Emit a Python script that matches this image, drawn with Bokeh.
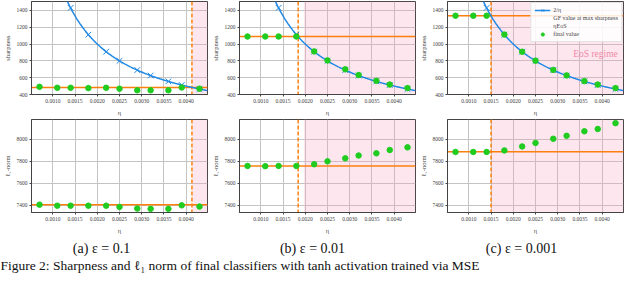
import numpy as np
from bokeh.plotting import figure
from bokeh.layouts import column, row
from bokeh.models import (Range1d, FixedTicker, NumeralTickFormatter, Span,
                          BoxAnnotation, Label, Legend, LegendItem)
from bokeh.embed import file_html
from bokeh.resources import INLINE

# ---------------- data ----------------
eta = [0.0007, 0.0011, 0.0014, 0.0018, 0.0022, 0.0025, 0.0029, 0.0032, 0.0036, 0.0039, 0.0043]

# final sharpness (green dots), top row
sharp_a = [491, 480, 480, 476, 480, 469, 450, 450, 450, 483, 469]
sharp_b = [1089, 1089, 1089, 1089, 912, 805, 699, 631, 563, 518, 476]
sharp_c = [1336, 1336, 1336, 1112, 908, 802, 692, 627, 559, 518, 476]

# 2/eta markers (x) at each eta
two_over_eta = [2857, 1818, 1429, 1111, 909, 800, 690, 625, 556, 513, 465]

# final l1-norm (green dots), bottom row
l1_a = [7406, 7397, 7397, 7397, 7397, 7386, 7371, 7368, 7368, 7400, 7389]
l1_b = [7758, 7756, 7758, 7758, 7773, 7800, 7827, 7853, 7873, 7903, 7927]
l1_c = [7885, 7885, 7885, 7899, 7935, 7967, 8005, 8032, 8073, 8094, 8147]

# GF value at max sharpness (orange solid lines)
gf_sharp = [484, 1089, 1336]
gf_l1 = [7405, 7758, 7886]

# eta_EoS (orange dashed) and start of the EoS (pink) region
eta_eos = [0.00413, 0.00184, 0.00150]
eos_start = [0.00414, 0.00197, 0.00151]

x_ticks = [0.0010, 0.0015, 0.0020, 0.0025, 0.0030, 0.0035, 0.0040]
sharp_ticks = [400, 600, 800, 1000, 1200, 1400]
l1_ticks = [7400, 7600, 7800, 8000]

captions = ["(a) ε = 0.1", "(b) ε = 0.01", "(c) ε = 0.001"]
figure_caption = "Figure 2: Sharpness and ℓ₁ norm of final classifiers with tanh activation trained via MSE"

# ---------------- style ----------------
BLUE = "#1e88e5"
ORANGE = "#ff7f0e"
GREEN = "#1fcc1f"
PINK = "#f79bbb"
FONT = "Liberation Serif"

X_LIM = (0.00052, 0.00448)
SHARP_LIM = (400, 1505)
L1_LIM = (7335, 8180)

# theoretical 2/eta reference line (as labelled in the legend)
eta_curve = np.linspace(X_LIM[0], X_LIM[1], 300)
curve_vals = 2.0 / eta_curve


def base_fig(ylim, yticks, ylabel, height):
    p = figure(width=208, height=height, x_range=Range1d(*X_LIM), y_range=Range1d(*ylim),
               output_backend="svg", toolbar_location=None,
               min_border_left=28, min_border_right=1, min_border_top=1, min_border_bottom=0)
    p.xaxis.ticker = FixedTicker(ticks=x_ticks)
    p.yaxis.ticker = FixedTicker(ticks=yticks)
    p.xaxis.formatter = NumeralTickFormatter(format="0.0000")
    p.yaxis.formatter = NumeralTickFormatter(format="0")
    p.xaxis.axis_label = "η"
    p.yaxis.axis_label = ylabel
    for ax in p.axis:
        ax.major_label_text_font_size = "5.5px"
        ax.major_label_text_font = FONT
        ax.axis_label_text_font_size = "6.5px"
        ax.axis_label_text_font = FONT
        ax.axis_label_text_font_style = "normal"
        ax.major_tick_out = 2
        ax.major_tick_in = 0
        ax.minor_tick_out = 0
        ax.minor_tick_in = 0
        ax.major_label_standoff = 2
        ax.axis_label_standoff = 3
        ax.axis_line_color = "#444444"
        ax.major_tick_line_color = "#444444"
    p.grid.grid_line_color = "#c4c4c4"
    p.grid.grid_line_width = 1
    p.outline_line_color = "#444444"
    p.outline_line_width = 1
    return p


def add_regions(p, i, gf):
    p.add_layout(BoxAnnotation(left=eos_start[i], fill_color=PINK, fill_alpha=0.25,
                               line_color=None, level="underlay"))
    p.add_layout(Span(location=gf, dimension="width", line_color=ORANGE,
                      line_width=1.5, level="underlay"))
    p.add_layout(Span(location=eta_eos[i], dimension="height", line_color=ORANGE,
                      line_width=1.5, line_dash="4 2", level="underlay"))


top_vals = [sharp_a, sharp_b, sharp_c]
bot_vals = [l1_a, l1_b, l1_c]

tops = []
bots = []
for i in range(3):
    p = base_fig(SHARP_LIM, sharp_ticks, "sharpness", 118)
    add_regions(p, i, gf_sharp[i])
    cr = p.line(eta_curve, curve_vals, line_color=BLUE, line_width=1.5)
    xr = p.scatter(eta, two_over_eta, marker="x", size=8, line_color=BLUE, line_width=1)
    gr = p.scatter(eta, top_vals[i], marker="circle", size=5.5, fill_color=GREEN, line_color=GREEN)
    if i == 2:
        gf_r = p.line([], [], line_color=ORANGE, line_width=1.5)
        eos_r = p.line([], [], line_color=ORANGE, line_width=1.5, line_dash="4 2")
        leg = Legend(items=[LegendItem(label="2/η", renderers=[cr, xr]),
                            LegendItem(label="GF value at max sharpness", renderers=[gf_r]),
                            LegendItem(label="ηEoS", renderers=[eos_r]),
                            LegendItem(label="final value", renderers=[gr])],
                     location="top_right")
        leg.label_text_font_size = "6px"
        leg.label_text_font = FONT
        leg.glyph_height = 8
        leg.glyph_width = 16
        leg.label_height = 8
        leg.label_standoff = 3
        leg.spacing = 0
        leg.padding = 3
        leg.margin = 1
        leg.background_fill_alpha = 0.85
        leg.border_line_color = "#cccccc"
        p.add_layout(leg)
        p.add_layout(Label(x=0.00385, y=880, text="EoS regime", text_color="#f28aa8",
                           text_font=FONT, text_font_size="9.5px",
                           text_align="center", text_baseline="middle"))
    tops.append(p)

    q = base_fig(L1_LIM, l1_ticks, "ℓ₁-norm", 118)
    add_regions(q, i, gf_l1[i])
    q.scatter(eta, bot_vals[i], marker="circle", size=5.5, fill_color=GREEN, line_color=GREEN)
    bots.append(q)

cap = figure(width=624, height=38, x_range=Range1d(0, 624), y_range=Range1d(0, 38),
             x_axis_type=None, y_axis_type=None, output_backend="svg", toolbar_location=None,
             min_border=0, outline_line_color=None)
cap.grid.visible = False
cap_x = [101, 312, 521]
for cx, txt in zip(cap_x, captions):
    cap.add_layout(Label(x=cx, y=26, text=txt, text_font=FONT, text_font_size="14px",
                         text_align="center", text_baseline="middle", text_color="#111111"))
cap.add_layout(Label(x=0, y=9, text=figure_caption, text_font=FONT, text_font_size="13.5px",
                     text_align="left", text_baseline="middle", text_color="#111111"))

layout = column(row(*tops), row(*bots), cap, spacing=0)
open("out.html", "w").write(file_html(layout, INLINE))
